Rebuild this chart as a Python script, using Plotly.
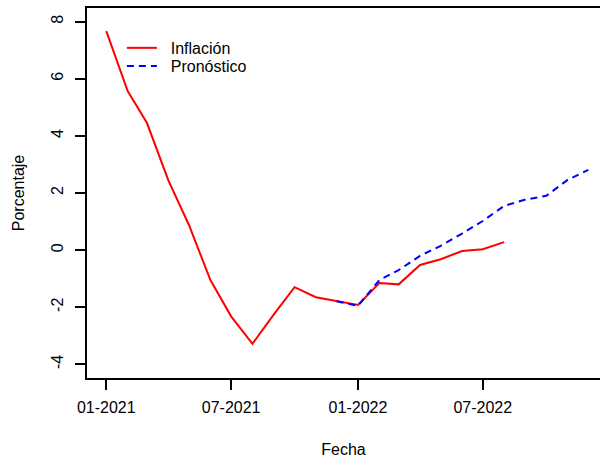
import plotly.graph_objects as go
import pandas as pd

infl_dates = pd.date_range("2021-01-01", periods=20, freq="MS")
infl_values = [7.67, 5.57, 4.45, 2.44, 0.87, -1.05, -2.32, -3.28, -2.25, -1.30,
               -1.65, -1.79, -1.92, -1.15, -1.20, -0.52, -0.32, -0.03, 0.03, 0.28]

fc_dates = pd.date_range("2021-12-01", periods=13, freq="MS")
fc_values = [-1.79, -1.95, -1.05, -0.70, -0.20, 0.15, 0.58, 1.02, 1.55, 1.77,
             1.90, 2.46, 2.81]

x_tickvals = ["2021-01-01", "2021-07-01", "2022-01-01", "2022-07-01"]
x_ticktext = ["01-2021", "07-2021", "01-2022", "07-2022"]
y_tickvals = [-4, -2, 0, 2, 4, 6, 8]
y_ticktext = ["-4", "-2", "0", "2", "4", "6", "8"]

FONT = "Liberation Sans, Arial, sans-serif"
PAD = "\u00a0\u00a0"

fig = go.Figure()
fig.add_trace(go.Scatter(x=infl_dates, y=infl_values, mode="lines", name=PAD + "Inflación",
                         line=dict(color="#FF0000", width=2), legend="legend"))
fig.add_trace(go.Scatter(x=fc_dates, y=fc_values, mode="lines", name=PAD + "Pronóstico",
                         line=dict(color="#0000FF", width=2, dash="7px,5px"),
                         legend="legend2"))

leg_common = dict(xanchor="left", yanchor="top", bgcolor="rgba(0,0,0,0)",
                  borderwidth=0, font=dict(size=16), itemwidth=30)

fig.update_layout(
    width=600, height=458,
    margin=dict(l=87, r=0, t=8, b=78),
    paper_bgcolor="white", plot_bgcolor="white",
    font=dict(family=FONT, size=16, color="black"),
    showlegend=True,
    legend=dict(x=0.068, y=0.938, **leg_common),
    legend2=dict(x=0.068, y=0.889, **leg_common),
    xaxis=dict(
        type="date",
        range=["2020-12-04", "2022-12-18"],
        tickvals=x_tickvals, ticktext=x_ticktext,
        showgrid=False, zeroline=False,
        showline=True, linecolor="black", linewidth=1.5, mirror=True,
        ticks="outside", ticklen=10, tickwidth=1.5, tickcolor="black",
        tickfont=dict(size=16), ticklabelstandoff=4,
        title=dict(text="Fecha", font=dict(size=16), standoff=31),
    ),
    yaxis=dict(
        range=[-4.48, 8.48],
        tickvals=y_tickvals, ticktext=y_ticktext,
        tickangle=-90,
        showgrid=False, zeroline=False,
        showline=True, linecolor="black", linewidth=1.5, mirror=False,
        ticks="outside", ticklen=10, tickwidth=1.5, tickcolor="black",
        tickfont=dict(size=16), ticklabelstandoff=6,
        title=dict(text="Porcentaje", font=dict(size=16), standoff=20),
    ),
)

fig.write_html("out.html")
